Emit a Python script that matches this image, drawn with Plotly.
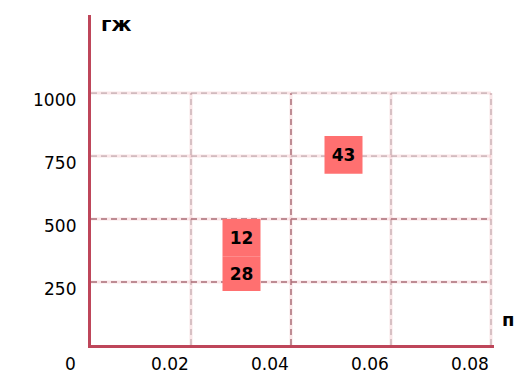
import plotly.graph_objects as go

# ---- data ----
bar_x = [0.0301, 0.0301, 0.0505]
bar_base = [350, 214, 680]
bar_top = [500, 350, 830]
bar_labels = ["12", "28", "43"]

x_grid_vals = [0.02, 0.04, 0.06, 0.08]
x_tick_text = ["0.02", "0.04", "0.06", "0.08"]
y_grid_vals = [250, 500, 750, 1000]
y_tick_vals = [0, 250, 500, 750, 1000]
y_tick_text = ["0", "250", "500", "750", "1000"]

x_title = "п"
y_title = "гж"

# ---- styles ----
FONT = "DejaVu Sans"
BAR_COLOR = "rgb(255,112,112)"
AXIS_COLOR = "rgb(190,70,90)"
strong_x = {0.04}
strong_y = {250, 500}

heights = [t - b for t, b in zip(bar_top, bar_base)]

fig = go.Figure()
fig.add_trace(go.Bar(
    x=bar_x, y=heights, base=bar_base, width=0.0076,
    marker=dict(color=BAR_COLOR, line=dict(width=0)),
    text=bar_labels, textposition="inside", insidetextanchor="middle",
    textfont=dict(family=FONT, size=17, color="black", weight="bold"),
    textangle=0, hoverinfo="skip", showlegend=False,
))

shapes = []
for v in x_grid_vals:
    strong = v in strong_x
    shapes.append(dict(type="line", xref="x", yref="y", x0=v, x1=v, y0=0, y1=1000,
                       line=dict(color="rgba(235,150,160,0.25)", width=3), layer="below"))
    shapes.append(dict(type="line", xref="x", yref="y", x0=v, x1=v, y0=0, y1=1000,
                       line=dict(color="rgb(170,110,120)" if strong else "rgb(180,155,160)",
                                 width=1.5 if strong else 1, dash="6px,4px"), layer="below"))
for v in y_grid_vals:
    strong = v in strong_y
    shapes.append(dict(type="line", xref="x", yref="y", x0=0, x1=0.08, y0=v, y1=v,
                       line=dict(color="rgba(235,150,160,0.25)", width=3), layer="below"))
    shapes.append(dict(type="line", xref="x", yref="y", x0=0, x1=0.08, y0=v, y1=v,
                       line=dict(color="rgb(170,110,120)" if strong else "rgb(180,155,160)",
                                 width=1.5 if strong else 1, dash="6px,4px"), layer="below"))

annotations = []
for v, t in zip(x_grid_vals, x_tick_text):
    annotations.append(dict(x=v, y=0, xref="x", yref="y", text=t, showarrow=False,
                            xanchor="right", yanchor="middle", yshift=-19,
                            font=dict(family=FONT, size=17, color="black")))
for v, t in zip(y_tick_vals, y_tick_text):
    annotations.append(dict(x=0, y=v, xref="paper", yref="y", text=t, showarrow=False,
                            xanchor="right", yanchor="middle", xshift=-13,
                            yshift=-19 if v == 0 else -7,
                            font=dict(family=FONT, size=17, color="black")))
annotations.append(dict(x=0, y=1, xref="paper", yref="paper", text=y_title, showarrow=False,
                        xanchor="left", yanchor="middle", xshift=8, yshift=-9,
                        font=dict(family=FONT, size=20, color="black", weight="bold")))
annotations.append(dict(x=1, y=0, xref="paper", yref="y", text=x_title, showarrow=False,
                        xanchor="left", yanchor="middle", xshift=6, yshift=26,
                        font=dict(family=FONT, size=18, color="black", weight="bold")))

fig.update_layout(
    width=515, height=384,
    margin=dict(l=91, r=21, t=15, b=39),
    paper_bgcolor="white", plot_bgcolor="white",
    shapes=shapes, annotations=annotations,
    xaxis=dict(range=[0, 0.0806], showgrid=False, zeroline=False, showticklabels=False,
               showline=True, linecolor=AXIS_COLOR, linewidth=3, ticks=""),
    yaxis=dict(range=[0, 1310], showgrid=False, zeroline=False, showticklabels=False,
               showline=True, linecolor=AXIS_COLOR, linewidth=3, ticks=""),
)

fig.write_html("out.html", config={"displayModeBar": False},
               post_script="document.body.style.margin='0';")
